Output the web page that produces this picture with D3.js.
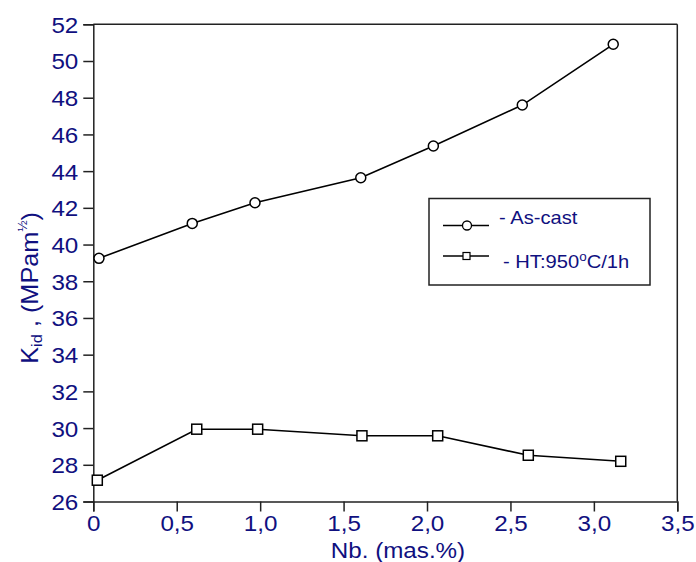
<!DOCTYPE html>
<html>
<head>
<meta charset="utf-8">
<script src="https://cdn.jsdelivr.net/npm/d3@7"></script>
<style>
  html, body { margin: 0; padding: 0; background: #fff; }
  svg { display: block; }
  text { font-family: "Liberation Sans", Arial, sans-serif; }
</style>
</head>
<body>
<svg id="chart" width="696" height="562"></svg>
<script>
// ---- data ----
const nbAsCast = [0.034, 0.593, 0.969, 1.603, 2.038, 2.571, 3.116];
const kidAsCast = [39.25, 41.15, 42.28, 43.64, 45.37, 47.60, 50.91];
const nbHT = [0.024, 0.620, 0.985, 1.610, 2.064, 2.607, 3.161];
const kidHT = [27.16, 29.94, 29.94, 29.58, 29.58, 28.52, 28.19];
const xTicks = [0, 0.5, 1.0, 1.5, 2.0, 2.5, 3.0, 3.5];
const xTickLabels = ["0", "0,5", "1,0", "1,5", "2,0", "2,5", "3,0", "3,5"];
const yTicks = [26, 28, 30, 32, 34, 36, 38, 40, 42, 44, 46, 48, 50, 52];
const seriesNames = ["- As-cast", "- HT:950", "C/1h"];

const navy = "#10107f";
const SX = 1.1;
const svg = d3.select("#chart");
const L = 93.3, R = 677.3, T = 24.3, B = 501.5;
const x = d3.scaleLinear().domain([0, 3.5]).range([L, R]);
const y = d3.scaleLinear().domain([26, 52]).range([B, T]);

function stretch(sel, k) {
  sel.each(function () {
    const t = d3.select(this);
    const tx = +t.attr("x") || 0, ty = +t.attr("y") || 0;
    t.attr("transform", `translate(${tx},${ty}) scale(${k},1) translate(${-tx},${-ty})`);
  });
}

// frame (top, right)
svg.append("line").attr("x1", L).attr("x2", R).attr("y1", T).attr("y2", T)
  .attr("stroke", "#222").attr("stroke-width", 1.5);
svg.append("line").attr("x1", R).attr("x2", R).attr("y1", T).attr("y2", B)
  .attr("stroke", "#222").attr("stroke-width", 1.5);

// axes
const xAxis = d3.axisBottom(x).tickValues(xTicks)
  .tickFormat((d, i) => xTickLabels[i]).tickSize(10).tickPadding(4);
const gx = svg.append("g").attr("transform", `translate(0,${B})`).call(xAxis);
const yAxis = d3.axisLeft(y).tickValues(yTicks).tickSize(10).tickPadding(5);
const gy = svg.append("g").attr("transform", `translate(${L},0)`).call(yAxis);
[gx, gy].forEach(g => {
  g.select(".domain").attr("stroke", "#222").attr("stroke-width", 1.5);
  g.selectAll(".tick line").attr("stroke", "#222").attr("stroke-width", 1.5);
  g.selectAll(".tick text").attr("fill", navy).style("font-size", "22px")
    .style("font-family", "'Liberation Sans', Arial, sans-serif");
});
gy.selectAll(".tick text").attr("dy", "0.36em");
stretch(gx.selectAll(".tick text"), SX);
stretch(gy.selectAll(".tick text"), SX);

// lines
const line = d3.line().x(d => x(d[0])).y(d => y(d[1]));
const dataA = nbAsCast.map((v, i) => [v, kidAsCast[i]]);
const dataH = nbHT.map((v, i) => [v, kidHT[i]]);
svg.append("path").datum(dataA).attr("d", line).attr("fill", "none")
  .attr("stroke", "#000").attr("stroke-width", 1.6);
svg.append("path").datum(dataH).attr("d", line).attr("fill", "none")
  .attr("stroke", "#000").attr("stroke-width", 1.6);

svg.selectAll("circle.a").data(dataA).enter().append("circle")
  .attr("cx", d => x(d[0])).attr("cy", d => y(d[1])).attr("r", 5)
  .attr("fill", "#fff").attr("stroke", "#000").attr("stroke-width", 1.5);
svg.selectAll("rect.h").data(dataH).enter().append("rect")
  .attr("x", d => x(d[0]) - 5).attr("y", d => y(d[1]) - 5)
  .attr("width", 10).attr("height", 10)
  .attr("fill", "#fff").attr("stroke", "#000").attr("stroke-width", 1.5);

// legend
const lg = svg.append("g");
lg.append("rect").attr("x", 429).attr("y", 198.5).attr("width", 221).attr("height", 86.5)
  .attr("fill", "#fff").attr("stroke", "#222").attr("stroke-width", 1.5);
lg.append("line").attr("x1", 443).attr("x2", 489).attr("y1", 225.5).attr("y2", 225.5)
  .attr("stroke", "#000").attr("stroke-width", 1.6);
lg.append("circle").attr("cx", 467).attr("cy", 225.5).attr("r", 4.5)
  .attr("fill", "#fff").attr("stroke", "#000").attr("stroke-width", 1.3);
const t1 = lg.append("text").attr("x", 499).attr("y", 224).attr("fill", navy)
  .style("font-size", "18px").text(seriesNames[0]);
lg.append("line").attr("x1", 443).attr("x2", 489).attr("y1", 256).attr("y2", 256)
  .attr("stroke", "#000").attr("stroke-width", 1.3);
lg.append("rect").attr("x", 463).attr("y", 252.5).attr("width", 7).attr("height", 7)
  .attr("fill", "#fff").attr("stroke", "#000").attr("stroke-width", 1.2);
const t2 = lg.append("text").attr("x", 503).attr("y", 268.5).attr("fill", navy)
  .style("font-size", "18px");
t2.append("tspan").text(seriesNames[1]);
t2.append("tspan").attr("dy", -7).style("font-size", "12px").text("o");
t2.append("tspan").attr("dy", 7).text(seriesNames[2]);
stretch(t1, 1.12);
stretch(t2, 1.12);

// x title
const xt = svg.append("text").attr("x", 398).attr("y", 558).attr("text-anchor", "middle")
  .attr("fill", navy).style("font-size", "22px").text("Nb. (mas.%)");
stretch(xt, SX);

// y title
const yt = svg.append("text").attr("transform", `translate(38,288) rotate(-90) scale(${SX},1)`)
  .attr("text-anchor", "middle").attr("fill", navy).style("font-size", "23px");
yt.append("tspan").text("K");
yt.append("tspan").attr("dy", 4).style("font-size", "15px").text("id");
yt.append("tspan").attr("dy", -4).text(" , (MPam");
yt.append("tspan").attr("dy", -11).style("font-size", "12px").text("½");
yt.append("tspan").attr("dy", 11).text(")");
</script>
</body>
</html>
